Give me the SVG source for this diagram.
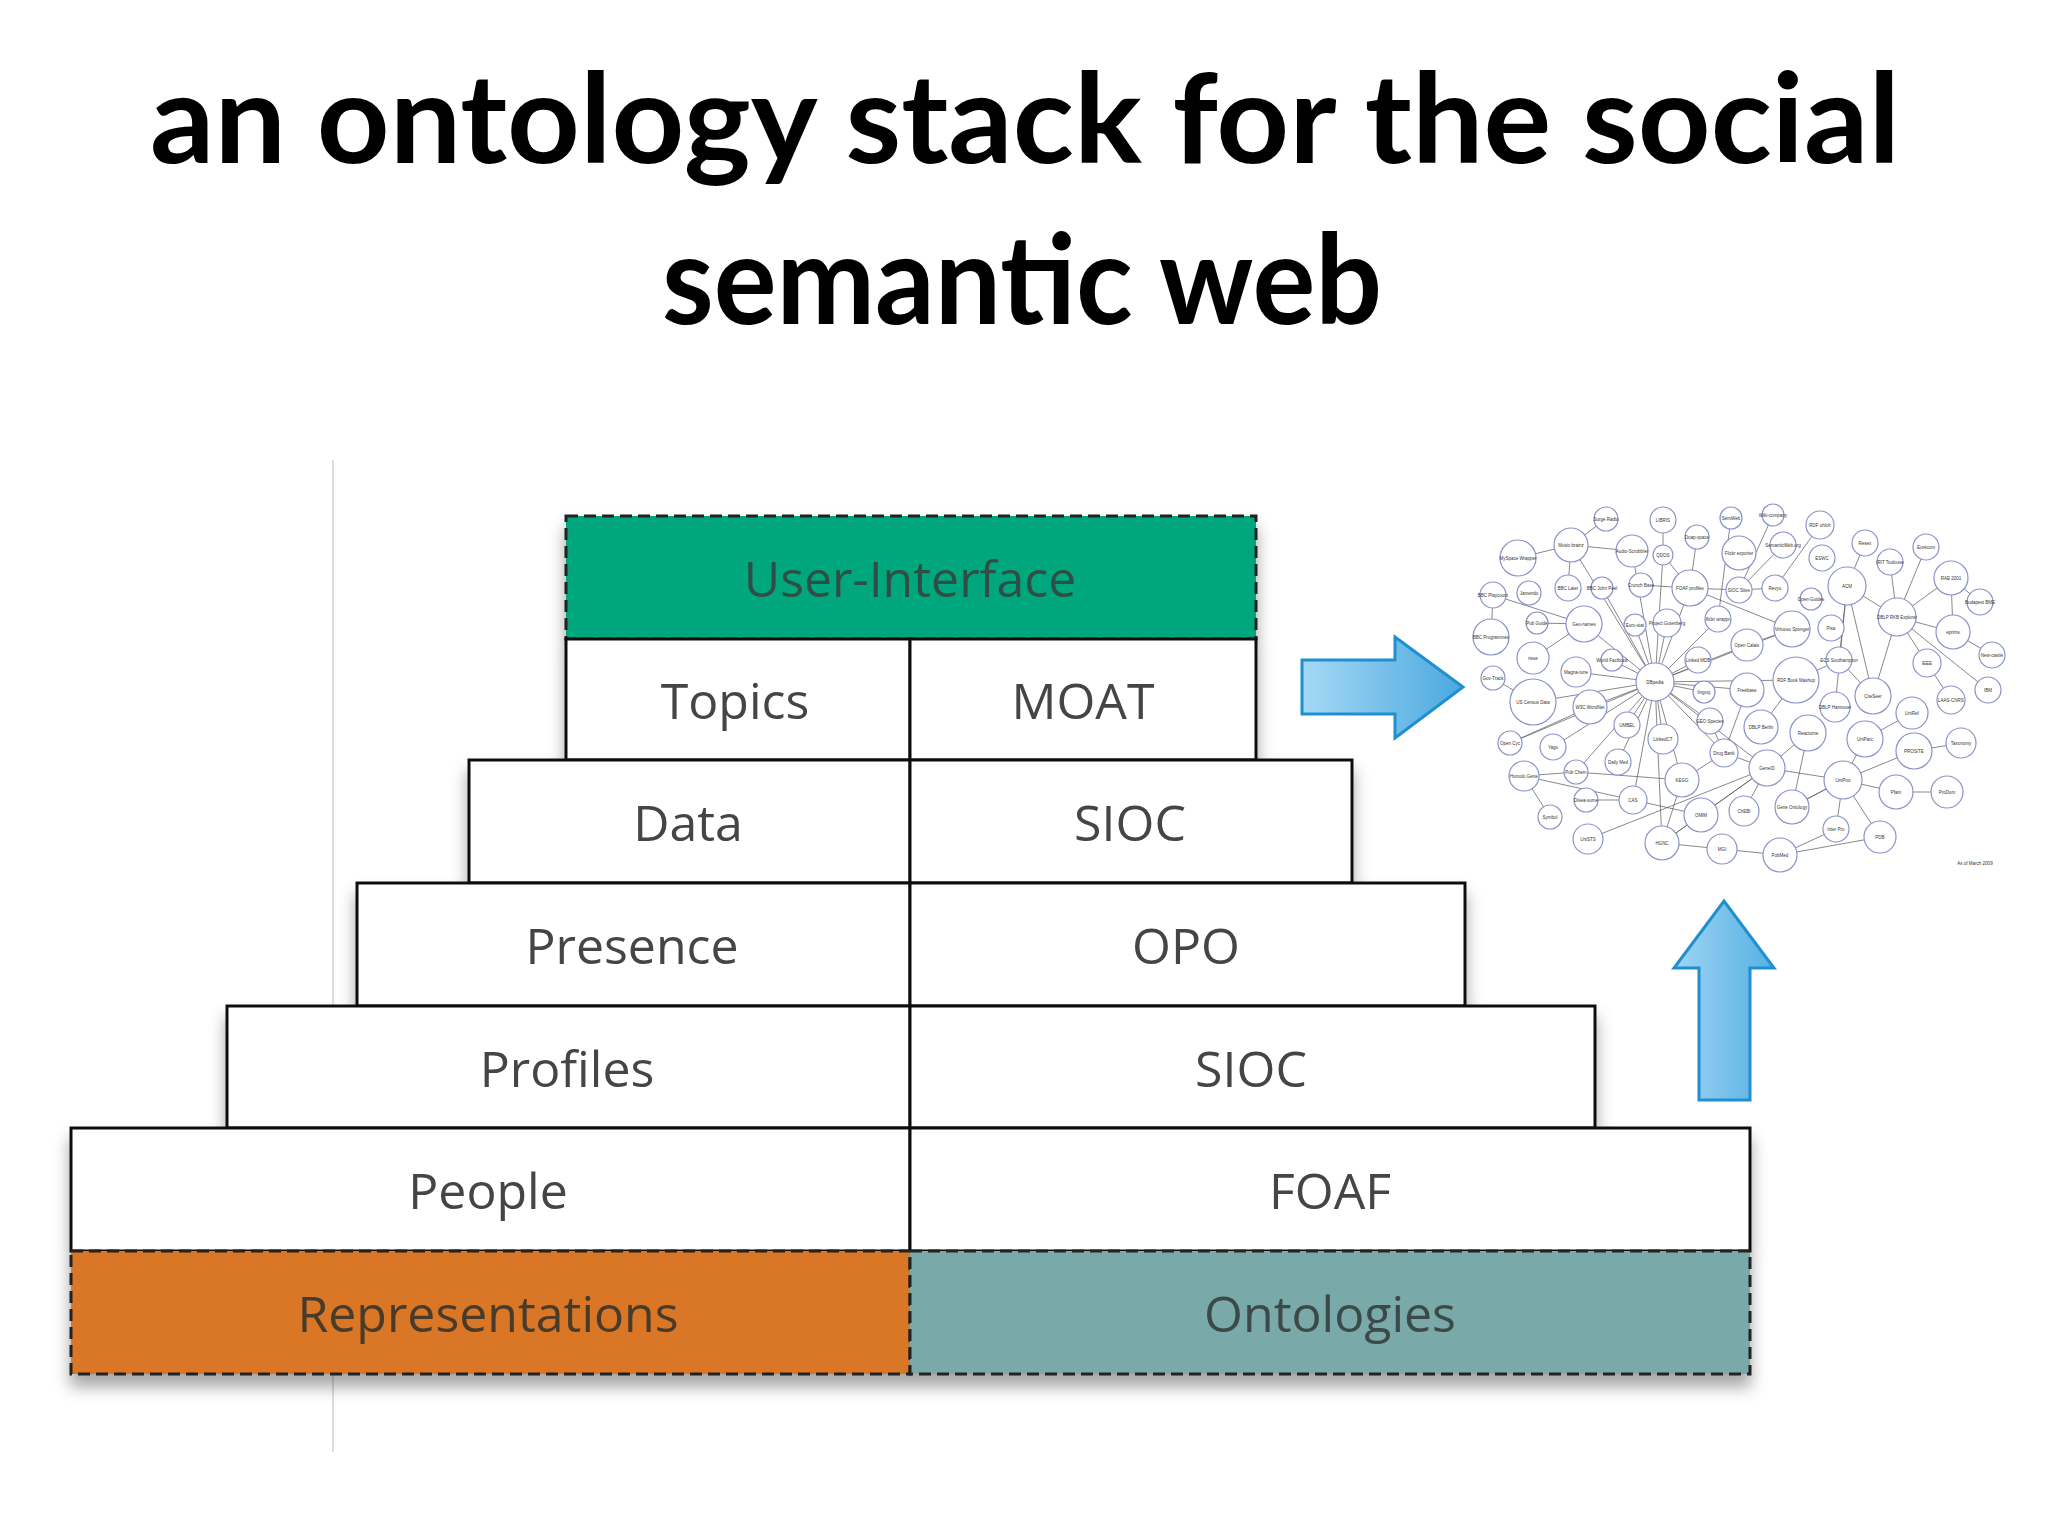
<svg xmlns="http://www.w3.org/2000/svg" width="2048" height="1536" viewBox="0 0 2048 1536">
<defs>
<filter id="sh" x="-5%" y="-5%" width="110%" height="120%"><feDropShadow dx="0" dy="12" stdDeviation="8" flood-color="#000" flood-opacity="0.35"/></filter>
<linearGradient id="ag" x1="0" y1="0" x2="1" y2="0"><stop offset="0" stop-color="#a6d8f5"/><stop offset="1" stop-color="#4aa9e0"/></linearGradient>
<linearGradient id="ag2" x1="0" y1="0" x2="1" y2="0"><stop offset="0" stop-color="#9fd4f4"/><stop offset="1" stop-color="#56b0e3"/></linearGradient>
</defs>
<style>
.t{font-family:"Lato","DejaVu Sans",sans-serif;font-weight:700;font-size:124px;fill:#000}
.c{fill:#fff;stroke:#111;stroke-width:3}
.d{stroke:#222;stroke-width:3;stroke-dasharray:12 6}
.l{font-family:"Open Sans","DejaVu Sans",sans-serif;font-size:50px;fill:#444;text-anchor:middle;dominant-baseline:central}
.n{fill:#fff;stroke:#8a93c8;stroke-width:1.2}
.nl{font-family:"Liberation Sans",sans-serif;font-size:4.5px;fill:#333;text-anchor:middle;dominant-baseline:central}
.e{stroke:#555;stroke-width:0.7;fill:none}
</style>
<rect width="2048" height="1536" fill="#fff"/>
<text class="t" x="150" y="163" textLength="1750" lengthAdjust="spacingAndGlyphs">an ontology stack for the social</text>
<text class="t" x="662" y="324" textLength="720" lengthAdjust="spacingAndGlyphs">semantic web</text>
<line x1="333" y1="460" x2="333" y2="1452" stroke="#ddd" stroke-width="2"/>
<g filter="url(#sh)">
<g id="ui"><rect x="566" y="516" width="690" height="123" fill="#06a67b" class="d"/><text class="l" x="910" y="578" fill="#3d5a52" style="fill:#2f4f46">User-Interface</text></g>
<g id="topics"><rect class="c" x="566" y="639" width="344" height="121"/><text class="l" x="735" y="700">Topics</text></g>
<g id="moat"><rect class="c" x="910" y="639" width="346" height="121"/><text class="l" x="1083" y="700">MOAT</text></g>
<g id="data"><rect class="c" x="469" y="760" width="441" height="123"/><text class="l" x="688" y="822">Data</text></g>
<g id="sioc1"><rect class="c" x="910" y="760" width="442" height="123"/><text class="l" x="1130" y="822">SIOC</text></g>
<g id="presence"><rect class="c" x="357" y="883" width="553" height="123"/><text class="l" x="632" y="945">Presence</text></g>
<g id="opo"><rect class="c" x="910" y="883" width="555" height="123"/><text class="l" x="1186" y="945">OPO</text></g>
<g id="profiles"><rect class="c" x="227" y="1006" width="683" height="122"/><text class="l" x="567" y="1068">Profiles</text></g>
<g id="sioc2"><rect class="c" x="910" y="1006" width="685" height="122"/><text class="l" x="1251" y="1068">SIOC</text></g>
<g id="people"><rect class="c" x="71" y="1128" width="839" height="123"/><text class="l" x="488" y="1190">People</text></g>
<g id="foaf"><rect class="c" x="910" y="1128" width="840" height="123"/><text class="l" x="1330" y="1190">FOAF</text></g>
<g id="repr"><rect x="71" y="1251" width="839" height="123" fill="#d97726" class="d"/><text class="l" x="488" y="1313" style="fill:#4a3a2c">Representations</text></g>
<g id="onto"><rect x="910" y="1251" width="840" height="123" fill="#79a9a8" class="d"/><text class="l" x="1330" y="1313" style="fill:#3a4a4a">Ontologies</text></g>
</g>
<g id="connectors">
<path d="M1302 660 H1395 V637 L1463 687 L1395 738 V714 H1302 Z" fill="url(#ag)" stroke="#1f8fcf" stroke-width="3"/>
<path d="M1699 1100 V968 H1674 L1724 901 L1774 968 H1750 V1100 Z" fill="url(#ag2)" stroke="#1f8fcf" stroke-width="3"/>
</g>
<g id="cloud">
<g class="e">
<path d="M1655 682 L1571 545 M1655 682 L1632 551 M1655 682 L1663 555 M1655 682 L1690 588 M1655 682 L1602 588 M1655 682 L1584 624 M1655 682 L1635 625 M1655 682 L1667 623 M1655 682 L1718 619 M1655 682 L1698 660 M1655 682 L1612 660 M1655 682 L1747 645 M1655 682 L1704 692 M1655 682 L1747 690 M1655 682 L1796 680 M1655 682 L1590 707 M1655 682 L1533 702 M1655 682 L1627 725 M1655 682 L1663 739 M1655 682 L1710 721 M1655 682 L1510 743 M1655 682 L1553 747 M1655 682 L1576 772 M1655 682 L1618 762 M1655 682 L1682 780 M1655 682 L1724 753 M1655 682 L1633 800 M1655 682 L1662 843 M1655 682 L1767 768 M1655 682 L1792 629 M1655 682 L1576 672"/>
<path d="M1571 545 L1518 558 M1571 545 L1606 519 M1571 545 L1632 551 M1571 545 L1568 588 M1690 588 L1739 590 M1690 588 L1641 585 M1690 588 L1697 537 M1690 588 L1663 555 M1739 590 L1775 588 M1739 590 L1783 545 M1690 588 L1792 629 M1584 624 L1537 623 M1584 624 L1533 658 M1584 624 L1493 595 M1491 637 L1493 595 M1533 702 L1493 678 M1510 743 L1590 707 M1524 776 L1550 817 M1524 776 L1633 800 M1576 772 L1682 780 M1767 768 L1843 780 M1767 768 L1808 733 M1767 768 L1724 753 M1767 768 L1701 815 M1767 768 L1744 811 M1767 768 L1662 843 M1767 768 L1588 839 M1843 780 L1865 739 M1843 780 L1896 792 M1843 780 L1914 751 M1843 780 L1836 829 M1843 780 L1880 837 M1843 780 L1792 807 M1896 792 L1947 792 M1914 751 L1961 743 M1912 713 L1865 739 M1780 855 L1722 849 M1780 855 L1836 829 M1780 855 L1880 837 M1722 849 L1662 843 M1701 815 L1662 843 M1633 800 L1701 815 M1847 586 L1897 617 M1847 586 L1873 696 M1847 586 L1839 660 M1897 617 L1953 632 M1897 617 L1951 578 M1897 617 L1927 663 M1897 617 L1873 696 M1897 617 L1890 562 M1953 632 L1992 655 M1953 632 L1951 578 M1927 663 L1951 700 M1951 578 L1980 602 M1873 696 L1839 660 M1835 707 L1847 586 M1796 680 L1761 727 M1747 645 L1792 629 M1839 660 L1796 680 M1988 690 L1897 617 M1926 547 L1897 617 M1865 543 L1847 586 M1820 525 L1775 588 M1731 518 L1718 619 M1773 515 L1739 590 M1663 520 L1663 555 M1747 690 L1724 753 M1710 721 L1724 753 M1682 780 L1724 753 M1682 780 L1662 843 M1808 733 L1792 807 M1792 807 L1843 780 M1576 772 L1524 776 M1586 800 L1633 800"/>
</g>
<g>
<circle class="n" cx="1606" cy="519" r="12"/><text class="nl" x="1606" y="519">Surge Radio</text>
<circle class="n" cx="1663" cy="520" r="13"/><text class="nl" x="1663" y="520">LIBRIS</text>
<circle class="n" cx="1697" cy="537" r="12"/><text class="nl" x="1697" y="537">Doap-space</text>
<circle class="n" cx="1731" cy="518" r="11"/><text class="nl" x="1731" y="518">SemWeb</text>
<circle class="n" cx="1773" cy="515" r="11"/><text class="nl" x="1773" y="515">Wiki-company</text>
<circle class="n" cx="1820" cy="525" r="14"/><text class="nl" x="1820" y="525">RDF ohloh</text>
<circle class="n" cx="1571" cy="545" r="17"/><text class="nl" x="1571" y="545">Music-brainz</text>
<circle class="n" cx="1632" cy="551" r="16"/><text class="nl" x="1632" y="551">Audio-Scrobbler</text>
<circle class="n" cx="1663" cy="555" r="10"/><text class="nl" x="1663" y="555">QDOS</text>
<circle class="n" cx="1739" cy="553" r="17"/><text class="nl" x="1739" y="553">Flickr exporter</text>
<circle class="n" cx="1783" cy="545" r="13"/><text class="nl" x="1783" y="545">SemanticWeb.org</text>
<circle class="n" cx="1822" cy="558" r="13"/><text class="nl" x="1822" y="558">ESWC</text>
<circle class="n" cx="1518" cy="558" r="18"/><text class="nl" x="1518" y="558">MySpace Wrapper</text>
<circle class="n" cx="1775" cy="588" r="13"/><text class="nl" x="1775" y="588">Revyu</text>
<circle class="n" cx="1811" cy="599" r="11"/><text class="nl" x="1811" y="599">Open-Guides</text>
<circle class="n" cx="1739" cy="590" r="13"/><text class="nl" x="1739" y="590">SIOC Sites</text>
<circle class="n" cx="1690" cy="588" r="18"/><text class="nl" x="1690" y="588">FOAF profiles</text>
<circle class="n" cx="1641" cy="585" r="12"/><text class="nl" x="1641" y="585">Crunch Base</text>
<circle class="n" cx="1602" cy="588" r="11"/><text class="nl" x="1602" y="588">BBC John Peel</text>
<circle class="n" cx="1568" cy="588" r="13"/><text class="nl" x="1568" y="588">BBC Later</text>
<circle class="n" cx="1529" cy="593" r="12"/><text class="nl" x="1529" y="593">Jamendo</text>
<circle class="n" cx="1493" cy="595" r="13"/><text class="nl" x="1493" y="595">BBC Playcount</text>
<circle class="n" cx="1584" cy="624" r="18"/><text class="nl" x="1584" y="624">Geo-names</text>
<circle class="n" cx="1537" cy="623" r="11"/><text class="nl" x="1537" y="623">Pub Guide</text>
<circle class="n" cx="1491" cy="637" r="18"/><text class="nl" x="1491" y="637">BBC Programmes</text>
<circle class="n" cx="1635" cy="625" r="11"/><text class="nl" x="1635" y="625">Euro-stat</text>
<circle class="n" cx="1667" cy="623" r="14"/><text class="nl" x="1667" y="623">Project Gutenberg</text>
<circle class="n" cx="1718" cy="619" r="13"/><text class="nl" x="1718" y="619">flickr wrappr</text>
<circle class="n" cx="1792" cy="629" r="18"/><text class="nl" x="1792" y="629">Virtuoso Sponger</text>
<circle class="n" cx="1831" cy="628" r="13"/><text class="nl" x="1831" y="628">Pisa</text>
<circle class="n" cx="1847" cy="586" r="19"/><text class="nl" x="1847" y="586">ACM</text>
<circle class="n" cx="1865" cy="543" r="13"/><text class="nl" x="1865" y="543">Resex</text>
<circle class="n" cx="1890" cy="562" r="13"/><text class="nl" x="1890" y="562">IRIT Toulouse</text>
<circle class="n" cx="1926" cy="547" r="13"/><text class="nl" x="1926" y="547">Eurécom</text>
<circle class="n" cx="1951" cy="578" r="17"/><text class="nl" x="1951" y="578">RAE 2001</text>
<circle class="n" cx="1980" cy="602" r="13"/><text class="nl" x="1980" y="602">Budapest BME</text>
<circle class="n" cx="1897" cy="617" r="19"/><text class="nl" x="1897" y="617">DBLP RKB Explorer</text>
<circle class="n" cx="1953" cy="632" r="17"/><text class="nl" x="1953" y="632">eprints</text>
<circle class="n" cx="1992" cy="655" r="13"/><text class="nl" x="1992" y="655">New-castle</text>
<circle class="n" cx="1927" cy="663" r="14"/><text class="nl" x="1927" y="663">IEEE</text>
<circle class="n" cx="1988" cy="690" r="13"/><text class="nl" x="1988" y="690">IBM</text>
<circle class="n" cx="1951" cy="700" r="14"/><text class="nl" x="1951" y="700">LAAS-CNRS</text>
<circle class="n" cx="1533" cy="658" r="16"/><text class="nl" x="1533" y="658">riese</text>
<circle class="n" cx="1747" cy="645" r="16"/><text class="nl" x="1747" y="645">Open Calais</text>
<circle class="n" cx="1839" cy="660" r="13"/><text class="nl" x="1839" y="660">ECS Southampton</text>
<circle class="n" cx="1698" cy="660" r="13"/><text class="nl" x="1698" y="660">Linked MDB</text>
<circle class="n" cx="1612" cy="660" r="11"/><text class="nl" x="1612" y="660">World Factbook</text>
<circle class="n" cx="1576" cy="672" r="15"/><text class="nl" x="1576" y="672">Magna-tune</text>
<circle class="n" cx="1493" cy="678" r="12"/><text class="nl" x="1493" y="678">Gov-Track</text>
<circle class="n" cx="1655" cy="682" r="19"/><text class="nl" x="1655" y="682">DBpedia</text>
<circle class="n" cx="1704" cy="692" r="11"/><text class="nl" x="1704" y="692">lingvoj</text>
<circle class="n" cx="1747" cy="690" r="17"/><text class="nl" x="1747" y="690">Freebase</text>
<circle class="n" cx="1796" cy="680" r="23"/><text class="nl" x="1796" y="680">RDF Book Mashup</text>
<circle class="n" cx="1873" cy="696" r="18"/><text class="nl" x="1873" y="696">CiteSeer</text>
<circle class="n" cx="1835" cy="707" r="15"/><text class="nl" x="1835" y="707">DBLP Hannover</text>
<circle class="n" cx="1912" cy="713" r="16"/><text class="nl" x="1912" y="713">UniRef</text>
<circle class="n" cx="1533" cy="702" r="23"/><text class="nl" x="1533" y="702">US Census Data</text>
<circle class="n" cx="1590" cy="707" r="17"/><text class="nl" x="1590" y="707">W3C WordNet</text>
<circle class="n" cx="1627" cy="725" r="13"/><text class="nl" x="1627" y="725">UMBEL</text>
<circle class="n" cx="1710" cy="721" r="13"/><text class="nl" x="1710" y="721">GEO Species</text>
<circle class="n" cx="1761" cy="727" r="17"/><text class="nl" x="1761" y="727">DBLP Berlin</text>
<circle class="n" cx="1808" cy="733" r="18"/><text class="nl" x="1808" y="733">Reactome</text>
<circle class="n" cx="1865" cy="739" r="18"/><text class="nl" x="1865" y="739">UniParc</text>
<circle class="n" cx="1961" cy="743" r="15"/><text class="nl" x="1961" y="743">Taxonomy</text>
<circle class="n" cx="1510" cy="743" r="12"/><text class="nl" x="1510" y="743">Open Cyc</text>
<circle class="n" cx="1553" cy="747" r="13"/><text class="nl" x="1553" y="747">Yago</text>
<circle class="n" cx="1663" cy="739" r="15"/><text class="nl" x="1663" y="739">LinkedCT</text>
<circle class="n" cx="1724" cy="753" r="14"/><text class="nl" x="1724" y="753">Drug Bank</text>
<circle class="n" cx="1914" cy="751" r="18"/><text class="nl" x="1914" y="751">PROSITE</text>
<circle class="n" cx="1524" cy="776" r="15"/><text class="nl" x="1524" y="776">Homolo Gene</text>
<circle class="n" cx="1576" cy="772" r="12"/><text class="nl" x="1576" y="772">Pub Chem</text>
<circle class="n" cx="1618" cy="762" r="13"/><text class="nl" x="1618" y="762">Daily Med</text>
<circle class="n" cx="1682" cy="780" r="17"/><text class="nl" x="1682" y="780">KEGG</text>
<circle class="n" cx="1767" cy="768" r="18"/><text class="nl" x="1767" y="768">GeneID</text>
<circle class="n" cx="1843" cy="780" r="19"/><text class="nl" x="1843" y="780">UniProt</text>
<circle class="n" cx="1896" cy="792" r="17"/><text class="nl" x="1896" y="792">Pfam</text>
<circle class="n" cx="1947" cy="792" r="16"/><text class="nl" x="1947" y="792">ProDom</text>
<circle class="n" cx="1550" cy="817" r="12"/><text class="nl" x="1550" y="817">Symbol</text>
<circle class="n" cx="1586" cy="800" r="12"/><text class="nl" x="1586" y="800">Disea-some</text>
<circle class="n" cx="1633" cy="800" r="14"/><text class="nl" x="1633" y="800">CAS</text>
<circle class="n" cx="1701" cy="815" r="17"/><text class="nl" x="1701" y="815">OMIM</text>
<circle class="n" cx="1744" cy="811" r="15"/><text class="nl" x="1744" y="811">ChEBI</text>
<circle class="n" cx="1792" cy="807" r="17"/><text class="nl" x="1792" y="807">Gene Ontology</text>
<circle class="n" cx="1836" cy="829" r="13"/><text class="nl" x="1836" y="829">Inter Pro</text>
<circle class="n" cx="1880" cy="837" r="16"/><text class="nl" x="1880" y="837">PDB</text>
<circle class="n" cx="1588" cy="839" r="15"/><text class="nl" x="1588" y="839">UniSTS</text>
<circle class="n" cx="1662" cy="843" r="17"/><text class="nl" x="1662" y="843">HGNC</text>
<circle class="n" cx="1722" cy="849" r="15"/><text class="nl" x="1722" y="849">MGI</text>
<circle class="n" cx="1780" cy="855" r="17"/><text class="nl" x="1780" y="855">PubMed</text>
<text class="nl" x="1975" y="863">As of March 2009</text>
</g>
</g>
</svg>
